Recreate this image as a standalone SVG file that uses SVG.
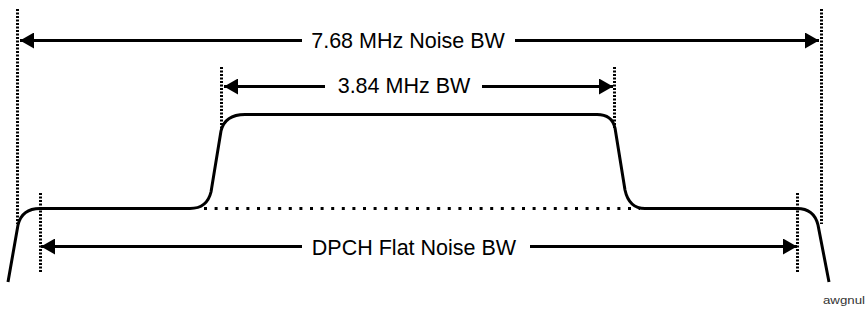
<svg xmlns="http://www.w3.org/2000/svg" width="867" height="320" viewBox="0 0 867 320">
<style>
.lbl{font-family:"Liberation Sans",Arial,sans-serif;font-size:21.5px;fill:#000}
.vdot{stroke:#000;stroke-width:3;stroke-dasharray:2 1.5;fill:none}
.hdot{stroke:#000;stroke-width:3;stroke-dasharray:3 7.6;fill:none}
.arr{stroke:#000;stroke-width:3;fill:none}
.curve{stroke:#000;stroke-width:3;fill:none;stroke-linejoin:round}
</style>
<defs>
<marker id="ah" markerUnits="userSpaceOnUse" markerWidth="14" markerHeight="16" viewBox="0 0 14 16" refX="14" refY="8" orient="auto-start-reverse">
<path d="M0,0 L14,8 L0,16 Z" fill="#000"/>
</marker>
</defs>
<rect width="867" height="320" fill="#fff"/>
<g id="guides">
<line class="vdot" x1="17.5" y1="9" x2="17.5" y2="224"/>
<line class="vdot" x1="821.5" y1="9" x2="821.5" y2="224"/>
<line class="vdot" x1="221.5" y1="67" x2="221.5" y2="130"/>
<line class="vdot" x1="614.5" y1="67" x2="614.5" y2="128"/>
<line class="vdot" x1="40.5" y1="193" x2="40.5" y2="273"/>
<line class="vdot" x1="797.5" y1="193" x2="797.5" y2="273"/>
<line class="hdot" x1="204" y1="208.5" x2="640" y2="208.5"/>
</g>
<g id="spectrum">
<path class="curve" d="M8,282 L18,225 Q22,208.5 40,208.5 L190,208.5 Q207,208.5 211,192 L221,131 Q225,114.5 245,114.5 L597,114.5 Q612,114.5 615,128 L625,190 Q629,208.5 645,208.5 L797,208.5 Q814,208.5 818,225 L829,282"/>
</g>
<g id="connectors">
<line class="arr" x1="302" y1="40.5" x2="20" y2="40.5" marker-end="url(#ah)"/>
<line class="arr" x1="515" y1="40.5" x2="819" y2="40.5" marker-end="url(#ah)"/>
<line class="arr" x1="325" y1="86.5" x2="224" y2="86.5" marker-end="url(#ah)"/>
<line class="arr" x1="482" y1="86.5" x2="613" y2="86.5" marker-end="url(#ah)"/>
<line class="arr" x1="302" y1="246.5" x2="41" y2="246.5" marker-end="url(#ah)"/>
<line class="arr" x1="530" y1="246.5" x2="797" y2="246.5" marker-end="url(#ah)"/>
</g>
<g id="label-noise">
<text class="lbl" x="408" y="48" text-anchor="middle">7.68 MHz Noise BW</text>
</g>
<g id="label-bw">
<text class="lbl" x="404" y="93" text-anchor="middle">3.84 MHz BW</text>
</g>
<g id="label-dpch">
<text class="lbl" x="414" y="255" text-anchor="middle">DPCH Flat Noise BW</text>
</g>
<g id="tag">
<text x="823" y="304" font-family="'Liberation Sans',Arial,sans-serif" font-size="11" fill="#333" textLength="42" lengthAdjust="spacingAndGlyphs">awgnul</text>
</g>
</svg>
